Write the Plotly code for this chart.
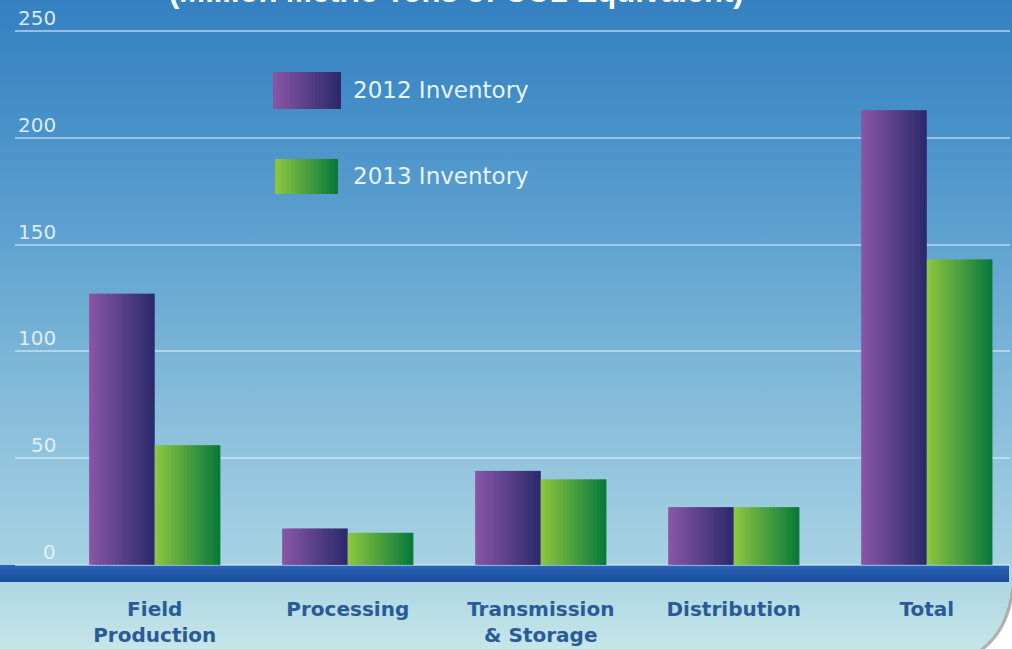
import base64
import plotly.graph_objects as go

# ---- data -------------------------------------------------------------
categories = ["Field<br>Production", "Processing", "Transmission<br>& Storage",
              "Distribution", "Total"]
inventory_2012 = [127, 17, 44, 27, 213]
inventory_2013 = [56, 15, 40, 27, 143]
series_names = ["2012 Inventory", "2013 Inventory"]
y_ticks = [0, 50, 100, 150, 200, 250]
title_text = "(Million Metric Tons of CO2 Equivalent)"

# ---- page geometry ----------------------------------------------------
W, H = 1012, 649
M_L, M_R, M_T, M_B = 15, 2, 29, 82
PLOT_W = W - M_L - M_R
PLOT_H = H - M_T - M_B


def paper_x(px):
    return (px - M_L) / PLOT_W


def paper_y(py):
    return (H - M_B - py) / PLOT_H


def hex_rgb(h):
    h = h.lstrip("#")
    return tuple(int(h[i:i + 2], 16) for i in (0, 2, 4))


def mix(c1, c2, t):
    a, b = hex_rgb(c1), hex_rgb(c2)
    return "rgb(%d,%d,%d)" % tuple(round(a[i] + (b[i] - a[i]) * t) for i in range(3))


PURPLE = ("#8a56a8", "#2a296a")
GREEN = ("#8fc740", "#06783b")

fig = go.Figure()

# ---- bars: each bar is built from thin vertical slices so the fill fades
# from a light left edge to a dark right edge --------------------------
BAR_W = 0.34
N_SLICES = 20
step = BAR_W / N_SLICES
for values, colors, base in ((inventory_2012, PURPLE, -BAR_W),
                             (inventory_2013, GREEN, 0.0)):
    for k in range(N_SLICES):
        t = (k + 0.5) / N_SLICES
        width = min(step * 1.6, (N_SLICES - k) * step)
        fig.add_trace(go.Bar(
            x=categories, y=values,
            offset=base + k * step, width=width,
            marker=dict(color=mix(colors[0], colors[1], t), line=dict(width=0)),
            showlegend=False, hoverinfo="skip",
        ))

# ---- background: vertical sky gradient, baseline band, page curl -------
svg = f'''<svg xmlns="http://www.w3.org/2000/svg" width="{W}" height="{H}" viewBox="0 0 {W} {H}">
<defs>
<linearGradient id="bg" x1="0" y1="0" x2="0" y2="1">
<stop offset="0" stop-color="#3480c1"/>
<stop offset="0.15" stop-color="#428dc7"/>
<stop offset="0.4" stop-color="#64a5d1"/>
<stop offset="0.62" stop-color="#86bcda"/>
<stop offset="0.87" stop-color="#a7d3e3"/>
<stop offset="0.92" stop-color="#b3dae5"/>
<stop offset="1" stop-color="#c6e6e8"/>
</linearGradient>
<linearGradient id="band" x1="0" y1="0" x2="0" y2="1">
<stop offset="0" stop-color="#2a64b9"/>
<stop offset="1" stop-color="#1c4b9b"/>
</linearGradient>
</defs>
<rect width="{W}" height="{H}" fill="url(#bg)"/>
<rect x="0" y="565" width="1009" height="17" fill="url(#band)"/>
<path d="M1012,588 Q1007,630 980,649 L1012,649 Z" fill="#ffffff"/>
<path d="M1013,588 Q1008,631 981,650" fill="none" stroke="#6f6f6f" stroke-width="3" stroke-opacity="0.55"/>
</svg>'''
bg_src = "data:image/svg+xml;base64," + base64.b64encode(svg.encode()).decode()

shapes = []
# legend swatches (gradient built from slices)
swatches = [((273, 341, 72, 109), PURPLE), ((275, 338, 159, 194), GREEN)]
for (x0, x1, y0, y1), colors in swatches:
    n = 16
    dx = (x1 - x0) / n
    for k in range(n):
        t = (k + 0.5) / n
        shapes.append(dict(
            type="rect", xref="paper", yref="paper",
            x0=paper_x(x0 + k * dx), x1=paper_x(min(x0 + (k + 1.6) * dx, x1)),
            y0=paper_y(y1), y1=paper_y(y0),
            fillcolor=mix(colors[0], colors[1], t), line=dict(width=0),
            layer="above",
        ))

annotations = []
# y tick labels sit just above their gridlines
for v in y_ticks:
    annotations.append(dict(
        x=paper_x(58), xref="paper", xanchor="right",
        y=v, yref="y", yanchor="middle", yshift=13,
        text=str(v), showarrow=False,
        font=dict(family="DejaVu Sans", size=20, color="rgba(232,245,252,0.92)"),
    ))

# legend labels
for name, cy in zip(series_names, (90, 176)):
    annotations.append(dict(
        x=paper_x(351), xref="paper", xanchor="left",
        y=paper_y(cy), yref="paper", yanchor="middle",
        text=name, showarrow=False,
        font=dict(family="DejaVu Sans", size=23, color="#e6f4fc"),
    ))

# chart subtitle
annotations.append(dict(
    x=paper_x(456), xref="paper", xanchor="center",
    y=1, yref="paper", yanchor="bottom", yshift=18,
    text=title_text, showarrow=False,
    font=dict(family="Liberation Sans, Arial", size=31, color="#ffffff", weight="bold"),
))

fig.update_layout(
    width=W, height=H, autosize=False,
    margin=dict(l=M_L, r=M_R, t=M_T, b=M_B, pad=0),
    paper_bgcolor="#3480c1", plot_bgcolor="rgba(0,0,0,0)",
    barmode="overlay",
    showlegend=False,
    images=[dict(
        source=bg_src, xref="paper", yref="paper",
        x=paper_x(0), y=paper_y(0), sizex=W / PLOT_W, sizey=H / PLOT_H,
        xanchor="left", yanchor="top", sizing="stretch", layer="below",
    )],
    shapes=shapes,
    annotations=annotations,
    xaxis=dict(
        type="category", range=[-0.724, 4.431],
        showgrid=False, zeroline=False, showline=False, ticks="",
        ticklabelstandoff=28,
        tickfont=dict(family="DejaVu Sans", size=20, color="#2a5b97", weight="bold"),
    ),
    yaxis=dict(
        range=[-1, 251], tickvals=y_ticks, showticklabels=False,
        showgrid=True, gridcolor="rgba(222,240,252,0.55)", gridwidth=2,
        zeroline=False, showline=False, ticks="",
    ),
)

fig.write_html("out.html")
